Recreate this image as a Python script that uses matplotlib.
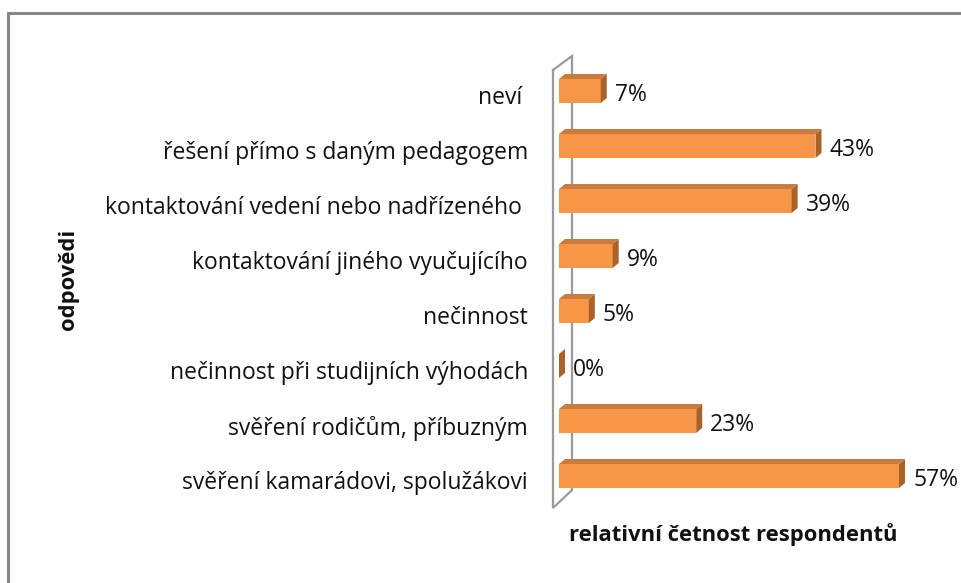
import matplotlib
matplotlib.use("Agg")
import matplotlib.pyplot as plt
from matplotlib.patches import Polygon, Rectangle
from matplotlib.lines import Line2D

plt.rcParams['font.family'] = ['Open Sans', 'DejaVu Sans']

# data (bottom to top as drawn)
categories = ["svěření kamarádovi, spolužákovi",
              "svěření rodičům, příbuzným",
              "nečinnost při studijních výhodách",
              "nečinnost",
              "kontaktování jiného vyučujícího",
              "kontaktování vedení nebo nadřízeného ",
              "řešení přímo s daným pedagogem",
              "neví "]
values = [57, 23, 0, 5, 9, 39, 43, 7]
value_labels = ["57%", "23%", "0%", "5%", "9%", "39%", "43%", "7%"]

xlabel = "relativní četnost respondentů"
ylabel = "odpovědi"

front_col = "#F79646"
top_col = "#C97C3E"
side_col = "#A8622A"
wall_col = "#9A9A9A"

W, H = 962, 583
fig = plt.figure(figsize=(W / 100, H / 100), dpi=100)

# axes placed in pixels: x=0 at px 559, 5.965 px per percent, rows 55 px apart
px_per_x = 5.965
px_per_y = 55.0
ax_left, ax_right = 559, 940
ax_top, ax_bot = 40, 540
y0_px = 476  # pixel row of category 0
ax = fig.add_axes([ax_left / W, 1 - ax_bot / H,
                   (ax_right - ax_left) / W, (ax_bot - ax_top) / H])
ax.set_xlim(0, (ax_right - ax_left) / px_per_x)
ax.set_ylim(-(ax_bot - y0_px) / px_per_y, (y0_px - ax_top) / px_per_y)
ax.axis("off")

def dx(px):
    return px / px_per_x

def dy(px):
    return px / px_per_y

# back wall (thin 3D panel)
wall = [(dx(-6), dy(476 - 70)), (dx(13), dy(476 - 56)),
        (dx(13), dy(476 - 490)), (dx(-6), dy(476 - 508))]
wx = [p[0] for p in wall] + [wall[0][0]]
wy = [p[1] for p in wall] + [wall[0][1]]
ax.add_line(Line2D(wx, wy, color=wall_col, lw=1.6, zorder=1,
                   solid_joinstyle="miter", clip_on=False))

bar_h = dy(24)
ddx, ddy = dx(6), dy(5)
for i, v in enumerate(values):
    lo = i - bar_h / 2
    hi = i + bar_h / 2
    ax.add_patch(Rectangle((0, lo), v, bar_h, facecolor=front_col,
                           edgecolor="none", zorder=3))
    ax.add_patch(Polygon([(0, hi), (v, hi), (v + ddx, hi + ddy), (ddx, hi + ddy)],
                         closed=True, facecolor=top_col, edgecolor="none", zorder=3))
    ax.add_patch(Polygon([(v, lo), (v + ddx, lo + ddy), (v + ddx, hi + ddy), (v, hi)],
                         closed=True, facecolor=side_col, edgecolor="none", zorder=3))
    ax.text(v + ddx + dx(8), i - dy(4), value_labels[i], ha="left", va="center",
            fontsize=16.5, color="#111111", zorder=4)
    ax.text(dx(-31), i - dy(7), categories[i], ha="right", va="center",
            fontsize=16.5, color="#111111", clip_on=False)

fig.text(733 / W, 1 - 535 / H, xlabel, ha="center", va="center",
         fontsize=15.8, fontweight="bold", color="#111111")
fig.text(68 / W, 1 - 279 / H, ylabel, ha="center", va="center", rotation=90,
         fontsize=15.8, fontweight="bold", color="#111111")

# chart area border
fig.patches.append(Rectangle((8 / W, -0.1), 1.2, 1.1 - 13 / H, transform=fig.transFigure,
                             fill=False, edgecolor="#868686", lw=2.2, zorder=0))

fig.savefig("out.png", dpi=100, facecolor="white")
